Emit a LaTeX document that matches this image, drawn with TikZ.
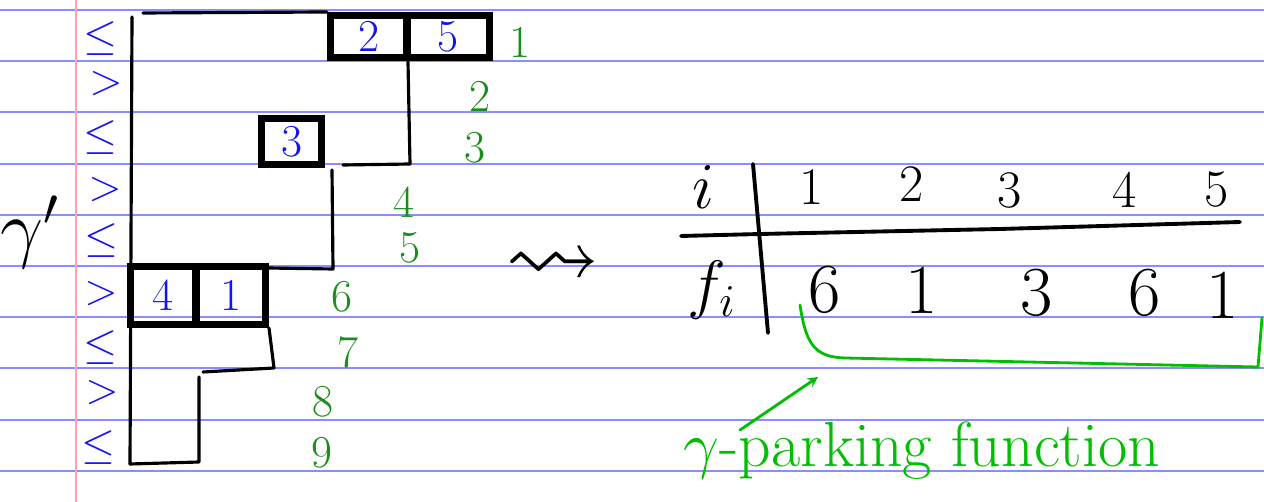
\documentclass[tikz,border=0pt]{standalone}
\usepackage{amsmath,amsfonts,amssymb}
\usepackage{xcolor}
\usepackage{tikz}
\usetikzlibrary{arrows, positioning}

\definecolor{ruleblue}{RGB}{140,140,250}
\definecolor{marginred}{RGB}{255,165,165}
\definecolor{inkblue}{RGB}{20,20,240}
\definecolor{inkgreen}{RGB}{25,140,25}
\definecolor{notegreen}{RGB}{0,190,0}

\begin{document}
\begin{tikzpicture}[
    x=0.02cm, y=-0.02cm,
    ruled/.style={ruleblue, line width=1.1pt},
    cellbox/.style={rectangle, draw, line width=4pt, inner sep=0pt, text=inkblue, font=\fontsize{26}{26}\selectfont},
    pathline/.style={line width=1.8pt, line cap=round, line join=round},
    rowmark/.style={text=inkblue, inner sep=0pt, font=\fontsize{24}{24}\selectfont},
    rowno/.style={text=inkgreen, inner sep=0pt, font=\fontsize{26}{26}\selectfont},
    tabtop/.style={inner sep=0pt, font=\fontsize{30}{30}\selectfont},
    tabbot/.style={inner sep=0pt, font=\fontsize{40}{40}\selectfont},
    tabmath/.style={inner sep=0pt, font=\huge, scale=1.8},
    tableline/.style={line width=2.2pt, line cap=round},
    arrow/.style={notegreen, line width=1.6pt, line cap=round, ->, >=stealth}
]
    \useasboundingbox (0,0) rectangle (1264,502);

    % Paper
    \draw[ruled] (0,10) -- (1264,10) (0,61.2) -- (1264,61.2) (0,112.4) -- (1264,112.4)
        (0,163.6) -- (1264,163.6) (0,214.8) -- (1264,214.8) (0,266) -- (1264,266)
        (0,317.2) -- (1264,317.2) (0,368.4) -- (1264,368.4) (0,419.6) -- (1264,419.6)
        (0,470.8) -- (1264,470.8);
    \draw[marginred, line width=1.1pt] (76,0) -- (76,502);

    % Cars in their spots
    \node (c2) [cellbox, minimum width=1.53cm, minimum height=0.84cm] at (368.75,36.5) {2};
    \node (c5) [cellbox, minimum width=1.65cm, minimum height=0.84cm] at (448.25,36.5) {5};
    \node (c3) [cellbox, minimum width=1.2cm, minimum height=0.92cm] at (291.5,141.5) {3};
    \node (c4) [cellbox, minimum width=1.31cm, minimum height=1.16cm] at (163.25,295.5) {4};
    \node (c1) [cellbox, minimum width=1.39cm, minimum height=1.16cm] at (230.75,295.5) {1};

    % Row marks
    \node (m1) [rowmark] at (100,39) {$\leq$};
    \node (m2) [rowmark] at (106,84) {$>$};
    \node (m3) [rowmark] at (100,138) {$\leq$};
    \node (m4) [rowmark] at (105,190) {$>$};
    \node (m5) [rowmark] at (101,241) {$\leq$};
    \node (m6) [rowmark] at (101,294) {$>$};
    \node (m7) [rowmark] at (100,348) {$\leq$};
    \node (m8) [rowmark] at (102,393) {$>$};
    \node (m9) [rowmark] at (98,448) {$\leq$};
    \node (gam) [inner sep=0pt, font=\huge, scale=2.1] at (30,232) {$\gamma'$};

    % Row numbers
    \node (n1) [rowno] at (520,42) {1};
    \node (n2) [rowno] at (480,96) {2};
    \node (n3) [rowno] at (475,148) {3};
    \node (n4) [rowno] at (404,202) {4};
    \node (n5) [rowno] at (410,248) {5};
    \node (n6) [rowno] at (342,297) {6};
    \node (n7) [rowno] at (348,352) {7};
    \node (n8) [rowno] at (323,402) {8};
    \node (n9) [rowno] at (322,453) {9};

    % Lattice path
    \coordinate (top) at (143,13);
    \coordinate (wtop) at (132,17);
    \coordinate (wbot) at (130,464);
    \coordinate (k0) at (408,62);
    \coordinate (k1) at (410,164);
    \coordinate (k2) at (343,165);
    \coordinate (k3) at (332,170);
    \coordinate (k4) at (333,269);
    \coordinate (k4b) at (268,268);
    \coordinate (k5) at (274,368);
    \coordinate (k6) at (203,372);
    \coordinate (k7) at (199,377);
    \coordinate (k8) at (199,462);
    \draw [pathline] (top) -- (c2.north west);
    \draw [pathline] (wtop) -- (wbot);
    \draw [pathline] (k0) -- (k1) -- (k2);
    \draw [pathline] (k3) -- (k4) -- (k4b);
    \draw [pathline] (c1.south east) -- (k5) -- (k6);
    \draw [pathline] (k7) -- (k8) -- (wbot);

    \node (squig) [inner sep=0pt, font=\huge, scale=2.6] at (553,268) {$\rightsquigarrow$};

    % Table
    \node (ti) [tabmath] at (703,187) {$i$};
    \node (t1) [tabtop] at (812,187) {1};
    \node (t2) [tabtop] at (912,184) {2};
    \node (t3) [tabtop] at (1010,191) {3};
    \node (t4) [tabtop] at (1125,190) {4};
    \node (t5) [tabtop] at (1217,190) {5};
    \node (tf) [tabmath] at (712,290) {$f_i$};
    \node (v1) [tabbot] at (825,290) {6};
    \node (v2) [tabbot] at (922,290) {1};
    \node (v3) [tabbot] at (1037,293) {3};
    \node (v4) [tabbot] at (1145,293) {6};
    \node (v5) [tabbot] at (1223,295) {1};
    \draw [tableline] (681,236) -- (760,234) -- (1000,229) -- (1240,222);
    \draw [tableline] (753,164) -- (768,333);

    % Note
    \coordinate (brk) at (818,377);
    \draw [notegreen, line width=1.6pt, line cap=round] (800,305) .. controls (806,345) and (815,357) .. (845,358) -- (1258,367) -- (1262,318);
    \node (note) [anchor=base, text=notegreen, inner sep=0pt, font=\huge, scale=1.75] at (922,467) {$\gamma$-parking function};
    \coordinate (tail) at (740,430);
    \draw [arrow] (tail) -- (brk);

\end{tikzpicture}
\end{document}
